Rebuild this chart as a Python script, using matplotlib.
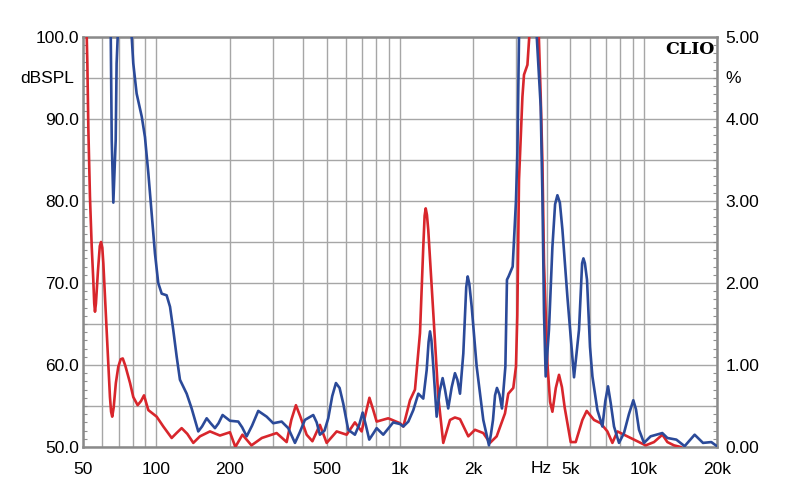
import matplotlib.pyplot as plt
import numpy as np
from matplotlib.ticker import FixedLocator, NullFormatter, MultipleLocator

# red curve (frequency Hz, dBSPL)
red_f = [50, 51.8, 52.1, 52.6, 53.4, 54.3, 55.1, 55.6, 56.0, 56.5, 57.6, 58.6, 59.3, 60.0,
         60.6, 62.5, 64.5, 65.2, 65.9, 66.8, 68.2, 69.8, 71.4, 72.8, 74.6, 78.0, 80.4,
         83.8, 86.5, 89.0, 92.7, 100.3, 106.8, 115.6, 121, 127, 134, 141.8, 151, 166,
         182.4, 200.5, 211, 225.6, 245.7, 271, 311.7, 342.6, 358, 374, 390, 413.8, 437,
         469, 500, 549.6, 604, 653, 696, 722, 749, 775, 802, 894.7, 1000, 1032, 1099, 1152,
         1208, 1246, 1262, 1275, 1290, 1306, 1370, 1436, 1505, 1604, 1680, 1763, 1907,
         2031, 2197, 2340, 2493, 2697, 2782, 2917, 2992, 3030, 3079, 3180, 3228, 3334,
         3385, 3538, 3710, 3780, 3842, 3900, 4027, 4130, 4222, 4360, 4494, 4620, 4742,
         5019, 5262, 5605, 5838, 6255, 6663, 7098, 7442, 7802, 8304, 9127, 10194, 11027,
         11935, 12513, 13317, 14188, 15017]
red_db = [106, 100, 96.8, 88.7, 80.5, 74.4, 70.4, 67.5, 66.5, 67.5, 71.5, 74.5, 75.0, 74.3,
          72.4, 64.3, 56.1, 54.3, 53.7, 54.8, 57.8, 59.8, 60.7, 60.8, 59.9, 57.8, 56.1,
          55.1, 55.6, 56.3, 54.5, 53.7, 52.5, 51.1, 51.7, 52.3, 51.6, 50.5, 51.3, 51.9,
          51.4, 51.8, 50.0, 51.5, 50.2, 51.1, 51.7, 50.6, 53.3, 55.1, 53.7, 51.5, 50.7,
          52.7, 50.5, 51.9, 51.5, 53.0, 51.9, 54.0, 56.0, 54.6, 53.1, 53.5, 52.9, 52.5, 55.7,
          57.0, 63.9, 74.4, 78.2, 79.1, 78.3, 76.5, 66.3, 56.1, 50.5, 53.3, 53.6, 53.4, 51.3,
          52.1, 51.7, 50.5, 51.3, 54.1, 56.5, 57.2, 59.8, 66.0, 82.6, 92.7, 95.4, 96.6,
          99.6, 108, 100.5, 92.7, 84.6, 72.4, 60.2, 55.5, 54.3, 57.2, 58.8, 57.3, 54.8,
          50.6, 50.6, 53.3, 54.4, 53.3, 52.9, 51.9, 50.5, 51.9, 51.5, 50.9, 50.2, 50.6,
          51.5, 50.6, 50.2, 50.0, 49.5]

# blue curve (frequency Hz, dBSPL)
blue_f = [50, 65.0, 65.6, 66.2, 66.6, 67.2, 68.1, 68.7, 69.4, 74, 79.2, 80.4, 83.0, 87.1,
          89.8, 92.7, 95.7, 98.7, 101.8, 105.2, 110.2, 113.8, 117.3, 121.2, 125, 133.2,
          139.6, 144, 148.6, 154, 160.9, 167, 174, 180, 187, 200.5, 216.9, 225, 234.8, 247,
          262, 283.6, 301.8, 326.8, 347.8, 370.6, 388, 407, 440.5, 455, 469, 490, 507.6,
          527, 545.9, 565, 584.9, 613, 653, 680, 702.6, 725, 747.7, 775, 802, 853.5, 938,
          1000, 1032, 1082, 1134, 1189, 1246, 1287, 1310, 1328, 1346, 1370, 1414, 1455,
          1496, 1530, 1577, 1630, 1681, 1720, 1763, 1819, 1870, 1896, 1925, 1969, 2064,
          2197, 2318, 2360, 2408, 2455, 2500, 2560, 2621, 2707, 2748, 2790, 2900, 2992,
          3033, 3079, 3350, 3642, 3780, 3842, 3900, 3962, 4087, 4222, 4330, 4426, 4530,
          4641, 4865, 5179, 5429, 5590, 5660, 5740, 5855, 6023, 6162, 6459, 6773, 6960,
          7141, 7330, 7557, 7922, 8304, 8700, 9069, 9300, 9572, 10034, 10680, 11929, 12513,
          13617, 14728, 16190, 17521, 18953, 20000]
blue_db = [112, 100, 87.4, 83.0, 79.8, 83.0, 87.4, 96.8, 100, 115, 100, 96.8, 93.1, 90.3,
           87.8, 83.4, 78.5, 73.6, 70.0, 68.7, 68.5, 67.1, 64.3, 61.0, 58.2, 56.5,
           54.7, 53.3, 51.9, 52.5, 53.5, 52.9, 52.3, 52.9, 53.9, 53.2, 53.1, 52.4, 51.3, 52.6,
           54.4, 53.7, 52.9, 53.1, 52.3, 50.5, 51.8, 53.3, 53.9, 53.0, 51.5, 52.0, 53.5,
           56.2, 57.8, 57.2, 55.3, 52.1, 51.5, 52.7, 54.2, 52.6, 50.9, 51.6, 52.3, 51.5, 53.0,
           52.8, 52.5, 53.1, 54.5, 56.5, 55.9, 59.4, 62.8, 64.1, 63.0, 59.8, 53.7, 56.8,
           58.4, 57.0, 54.7, 57.3, 59.0, 58.2, 56.5, 61.4, 69.5, 70.8, 69.9, 67.1, 59.8,
           53.3, 50.2, 51.5, 53.3, 56.3, 57.2, 56.4, 54.7, 59.8, 70.4, 70.8, 72.0, 80.0,
           86.0, 100, 112, 100, 91.5, 80.5, 66.3, 58.6, 64.3, 74.4, 79.6, 80.7, 79.8,
           76.5, 68.3, 58.5, 64.3, 72.4, 73.0, 72.4, 70.4, 62.2, 58.6, 54.5, 52.5, 55.6,
           57.4, 55.3, 52.5, 50.5, 51.7, 54.0, 55.7, 54.6, 52.1, 50.5, 51.3, 51.7, 51.1,
           50.9, 50.1, 51.5, 50.5, 50.6, 50.1]

x_major = [50, 100, 200, 500, 1000, 2000, 5000, 10000, 20000]
x_labels = ['50', '100', '200', '500', '1k', '2k', '5k', '10k', '20k']
x_minor = [60, 70, 80, 90, 300, 400, 600, 700, 800, 900,
           3000, 4000, 6000, 7000, 8000, 9000]
y_left = [50, 60, 70, 80, 90, 100]
y_right = [0, 1, 2, 3, 4, 5]

plt.rcParams['font.family'] = ['Liberation Sans', 'DejaVu Sans']

fig = plt.figure(figsize=(8, 5.04), dpi=100)
ax = fig.add_axes([0.10375, 0.1131, 0.7925, 0.8135])

ax.set_xscale('log')
ax.set_xlim(50, 20000)
ax.set_ylim(50, 100)

gridc = '#a6a6a6'
ax.xaxis.set_major_locator(FixedLocator(x_major))
ax.xaxis.set_minor_locator(FixedLocator(x_minor))
ax.xaxis.set_minor_formatter(NullFormatter())
ax.set_xticklabels(x_labels)
ax.set_yticks(y_left)
ax.set_yticklabels(['%.1f' % v for v in y_left])
ax.yaxis.set_minor_locator(MultipleLocator(1))
ax.grid(True, which='both', axis='x', color=gridc, lw=1.0)
for v in np.arange(50, 101, 5):
    ax.axhline(v, color=gridc, lw=1.0, zorder=0.5)
ax.set_axisbelow(True)

ax.tick_params(axis='x', which='both', length=0, labelsize=12.5, pad=11, colors='black')
ax.tick_params(axis='y', which='major', length=0, labelsize=12.5, pad=3)
ax.tick_params(axis='y', which='minor', length=3, direction='in', color='#909090', width=0.8)

for s in ax.spines.values():
    s.set_color('#8a8a8a')
    s.set_linewidth(1.8)

ax.plot(red_f, red_db, color='#d8262c', lw=1.9, zorder=3, solid_joinstyle='round')
ax.plot(blue_f, blue_db, color='#2b4a99', lw=1.9, zorder=4, solid_joinstyle='round')

ax2 = ax.twinx()
ax2.set_ylim(0, 5)
ax2.set_yticks(y_right)
ax2.set_yticklabels(['%.2f' % v for v in y_right])
ax2.yaxis.set_minor_locator(MultipleLocator(0.1))
ax2.tick_params(axis='y', which='major', length=0, labelsize=12.5, pad=6)
ax2.tick_params(axis='y', which='minor', length=3, direction='in', color='#909090', width=0.8)
for s in ax2.spines.values():
    s.set_visible(False)

fig.text(0.059, 0.845, 'dBSPL', fontsize=12.5, ha='center', va='center')
fig.text(0.917, 0.845, '%', fontsize=12.5, ha='center', va='center')
fig.text(0.676, 0.0712, 'Hz', fontsize=12.5, ha='center', va='center')
ax.text(0.997, 0.99, 'CLIO', transform=ax.transAxes, ha='right', va='top',
        fontsize=12.5, fontweight='bold', family=['DejaVu Serif', 'Liberation Serif'])

fig.savefig('out.png', dpi=100, facecolor='white')
